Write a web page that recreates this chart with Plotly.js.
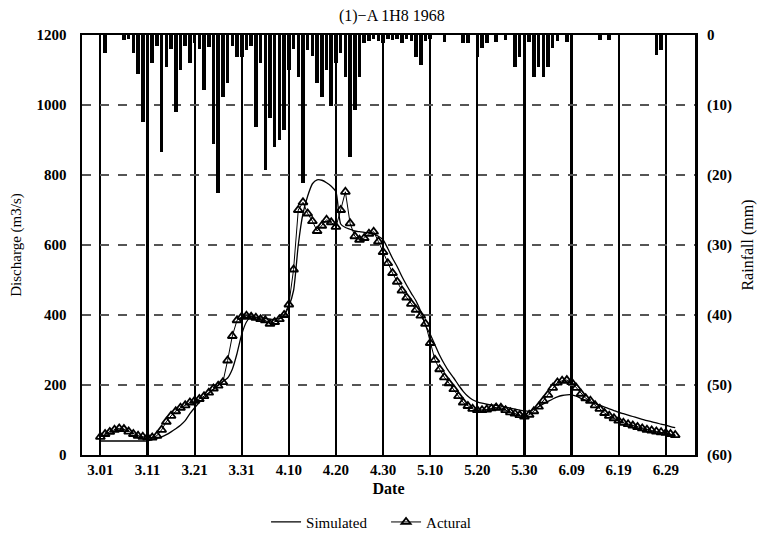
<!DOCTYPE html>
<html>
<head>
<meta charset="utf-8">
<script src="https://cdn.plot.ly/plotly-3.0.1.min.js"></script>
<style>html,body{margin:0;padding:0;background:#fff;}#chart{width:761px;height:539px;}</style>
</head>
<body>
<div id="chart"></div>
<script>
// Day index: 0 = 3.01 (1 March 1968)
const tickDays = [0,10,20,30,40,50,60,70,80,90,100,110,120];
const tickLabels = ["3.01","3.11","3.21","3.31","4.10","4.20","4.30","5.10","5.20","5.30","6.09","6.19","6.29"];
const dischargeTicks = [0,200,400,600,800,1000,1200];
const rainTicks = [0,10,20,30,40,50,60];
const rainTickLabels = ["0","(10)","(20)","(30)","(40)","(50)","(60)"];

// Actual discharge (m3/s), one value per day from day 0
const actual = [52,60,66,72,76,74,67,60,55,52,
  50,50,55,72,95,112,125,135,142,150,
  155,160,168,178,190,198,208,270,340,385,
  395,398,395,392,388,385,375,380,388,400,
  430,530,700,722,690,668,640,655,672,665,
  652,700,752,662,625,615,620,632,638,610,
  580,548,520,495,470,450,432,415,398,375,
  320,272,245,222,205,188,168,150,140,132,
  128,128,130,133,136,135,128,122,118,114,
  110,115,125,138,155,172,192,207,212,214,
  208,192,175,162,155,142,132,120,112,105,
  98,92,88,84,80,76,72,70,67,65,
  63,60,57];

// Simulated discharge (m3/s), one value per day from day 0
const simulated = [40,40,40,40,40,40,40,40,40,40,
  40,44,48,52,58,66,75,85,98,118,
  135,150,163,176,188,200,210,220,245,290,
  345,380,395,394,392,390,388,388,390,400,
  425,470,600,690,740,775,786,785,778,768,
  752,660,650,645,640,638,636,635,632,625,
  615,590,562,538,510,485,462,440,410,370,
  345,315,285,260,238,220,200,182,168,158,
  152,148,145,143,142,140,137,134,131,128,
  126,125,130,138,146,153,160,166,170,172,
  172,168,162,156,150,147,142,137,132,127,
  122,118,114,110,106,102,98,95,92,88,
  85,81,78];

// Daily rainfall (mm): day index and amount
const rainDays = [1,5,6,7,8,9,10,11,12,13,14,15,16,17,18,19,20,21,22,23,24,25,26,27,28,29,
  30,31,32,33,34,35,36,37,38,39,40,41,42,43,44,45,46,47,48,49,50,51,52,53,54,55,56,57,58,59,
  60,61,62,63,64,65,66,67,68,69,70,73,77,78,80,81,82,84,86,88,89,90,91,92,93,94,95,96,97,99,
  106,108,118,119];
const rainMm = [2.6,0.7,0.5,2.6,5.5,12.4,7.9,4.0,1.5,16.7,4.5,2.0,11.0,5.0,1.5,4.0,1.2,2.0,7.9,1.7,15.5,22.6,8.8,6.9,1.5,3.1,
  3.1,2.1,1.5,13.1,4.0,19.3,11.9,16.0,15.0,13.6,5.0,2.0,6.0,21.2,2.1,3.0,6.9,8.8,5.0,10.2,4.0,2.5,6.0,17.4,10.7,6.0,1.2,0.8,0.5,0.8,
  1.2,0.5,0.7,0.5,1.2,0.5,0.8,3.1,4.3,0.8,0.5,1.0,1.2,1.2,3.1,1.9,1.2,1.0,0.7,4.5,3.1,2.6,1.0,6.0,4.5,6.0,4.5,1.9,0.8,1.0,
  0.7,0.7,2.9,2.1];

const days = actual.map((_, i) => i);
const FONT = "Liberation Serif, Times New Roman, serif";

const traces = [
  {
    x: rainDays, y: rainMm, type: 'bar', yaxis: 'y2', base: 0,
    width: 0.75, marker: {color: '#000', line: {width: 0}},
    showlegend: false, hoverinfo: 'skip'
  },
  {
    x: days, y: simulated, type: 'scatter', mode: 'lines', name: 'Simulated',
    line: {color: '#000', width: 1.3, shape: 'spline', smoothing: 0.6}
  },
  {
    x: days, y: actual, type: 'scatter', mode: 'lines+markers', name: 'Actural',
    line: {color: '#000', width: 1},
    marker: {symbol: 'triangle-up-open', size: 8, color: '#000', line: {width: 1.8, color: '#000'}}
  }
];

const layout = {
  width: 761, height: 539,
  margin: {l: 82, r: 66, t: 35, b: 84, autoexpand: false},
  paper_bgcolor: '#fff', plot_bgcolor: '#fff',
  font: {family: FONT, size: 15, color: '#000'},
  title: {text: '(1)−A 1H8 1968', x: 0.515, xanchor: 'center', y: 0.972, yanchor: 'middle',
    font: {family: FONT, size: 16, color: '#000'}},
  bargap: 0,
  xaxis: {
    range: [-3.9, 126.2], tickmode: 'array', tickvals: tickDays, ticktext: tickLabels,
    showgrid: true, gridcolor: '#000', gridwidth: 2.2,
    zeroline: false, showline: true, linecolor: '#000', linewidth: 2, mirror: true,
    ticks: '', ticklabelstandoff: 0, automargin: false,
    tickfont: {family: FONT, size: 15, color: '#000', weight: 'bold'},
    title: {text: 'Date', standoff: 6, font: {family: FONT, size: 16, color: '#000', weight: 'bold'}}
  },
  yaxis: {
    range: [0, 1200], tickmode: 'array', tickvals: dischargeTicks,
    showgrid: true, gridcolor: '#555', gridwidth: 1.5, griddash: 'dash',
    zeroline: false, showline: true, linecolor: '#000', linewidth: 2.5, mirror: true,
    ticks: '', ticklen: 0, ticklabelstandoff: 10, automargin: false,
    tickfont: {family: FONT, size: 15, color: '#000', weight: 'bold'},
    title: {text: 'Discharge (m3/s)', standoff: 12, font: {family: FONT, size: 15, color: '#000'}}
  },
  yaxis2: {
    overlaying: 'y', side: 'right', range: [60, 0], tickmode: 'array',
    tickvals: rainTicks, ticktext: rainTickLabels, automargin: false,
    showgrid: false, zeroline: false, showline: false, ticks: '', ticklabelstandoff: 11,
    tickfont: {family: FONT, size: 15, color: '#000', weight: 'bold'},
    title: {text: 'Rainfall (mm)', standoff: 10, font: {family: FONT, size: 16, color: '#000'}}
  },
  legend: {
    orientation: 'h', x: 0.496, xanchor: 'center', y: -0.16, yanchor: 'middle',
    font: {family: FONT, size: 15, color: '#000'}, bgcolor: 'rgba(0,0,0,0)',
    itemwidth: 30, entrywidth: 75, entrywidthmode: 'pixels'
  },
  showlegend: true
};

Plotly.newPlot('chart', traces, layout, {displayModeBar: false, staticPlot: true});
</script>
</body>
</html>
